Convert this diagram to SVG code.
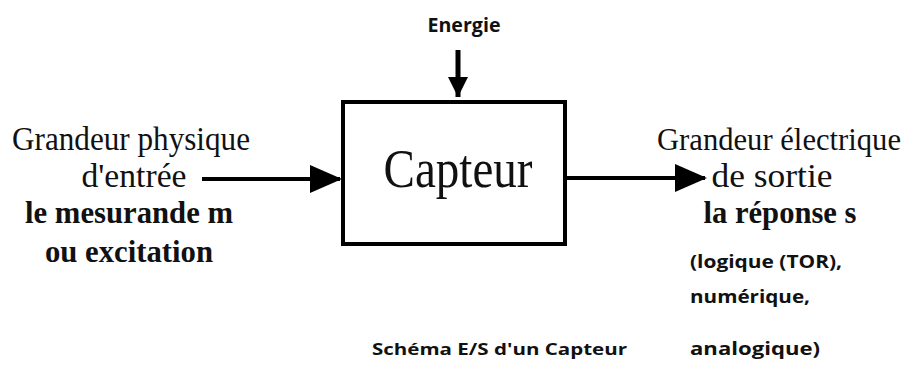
<svg xmlns="http://www.w3.org/2000/svg" width="911" height="367" viewBox="0 0 911 367">
<defs>
<style>
.serif{font-family:"Liberation Serif","Times New Roman",serif;fill:#111;}
.b{font-weight:bold;}
.sans{font-family:"Open Sans","Noto Sans","Liberation Sans",sans-serif;font-weight:bold;fill:#111;}
.line{stroke:#000;stroke-width:4;fill:none;}
</style>
<marker id="ah" markerWidth="8" markerHeight="7" refX="7.5" refY="3.5" orient="auto" markerUnits="strokeWidth">
<path d="M0,0 L8,3.5 L0,7 Z" fill="#000"/>
</marker>
<marker id="ah2" markerWidth="4" markerHeight="4" refX="4" refY="2" orient="auto" markerUnits="strokeWidth">
<path d="M0,0 L4,2 L0,4 Z" fill="#000"/>
</marker>
</defs>
<rect width="911" height="367" fill="#fff"/>

<g id="capteur">
<rect x="343" y="102" width="222" height="142" class="line"/>
<text class="serif" x="458" y="187" font-size="54" text-anchor="middle" textLength="149" lengthAdjust="spacingAndGlyphs">Capteur</text>
</g>

<g id="energie">
<text class="sans" x="464" y="32" font-size="19" text-anchor="middle" textLength="73" lengthAdjust="spacingAndGlyphs">Energie</text>
</g>

<g id="entree">
<text class="serif" x="131" y="150" font-size="33" text-anchor="middle" textLength="238" lengthAdjust="spacingAndGlyphs">Grandeur physique</text>
<text class="serif" x="134" y="187" font-size="33" text-anchor="middle" textLength="105" lengthAdjust="spacingAndGlyphs">d'entrée</text>
<text class="serif b" x="129" y="223" font-size="32" text-anchor="middle" textLength="208" lengthAdjust="spacingAndGlyphs">le mesurande m</text>
<text class="serif b" x="129" y="262" font-size="32" text-anchor="middle" textLength="168" lengthAdjust="spacingAndGlyphs">ou excitation</text>
</g>

<g id="sortie">
<text class="serif" x="779" y="150" font-size="31" text-anchor="middle" textLength="244" lengthAdjust="spacingAndGlyphs">Grandeur électrique</text>
<text class="serif" x="772" y="187" font-size="33" text-anchor="middle" textLength="121" lengthAdjust="spacingAndGlyphs">de sortie</text>
<text class="serif b" x="780" y="223" font-size="32" text-anchor="middle" textLength="153" lengthAdjust="spacingAndGlyphs">la réponse s</text>
<text class="sans" x="690" y="268" font-size="17" textLength="152" lengthAdjust="spacingAndGlyphs">(logique (TOR),</text>
<text class="sans" x="690" y="303" font-size="17" textLength="120" lengthAdjust="spacingAndGlyphs">numérique,</text>
<text class="sans" x="690" y="355" font-size="17" textLength="130" lengthAdjust="spacingAndGlyphs">analogique)</text>
</g>

<g id="legende">
<text class="sans" x="372" y="355" font-size="16" textLength="255" lengthAdjust="spacingAndGlyphs">Schéma E/S d'un Capteur</text>
</g>

<g id="connecteurs">
<line x1="202" y1="179" x2="340" y2="179" class="line" marker-end="url(#ah)"/>
<line x1="567" y1="178" x2="705" y2="178" class="line" marker-end="url(#ah)"/>
<line x1="458" y1="50" x2="458" y2="97" stroke="#000" stroke-width="5" marker-end="url(#ah2)"/>
</g>
</svg>
